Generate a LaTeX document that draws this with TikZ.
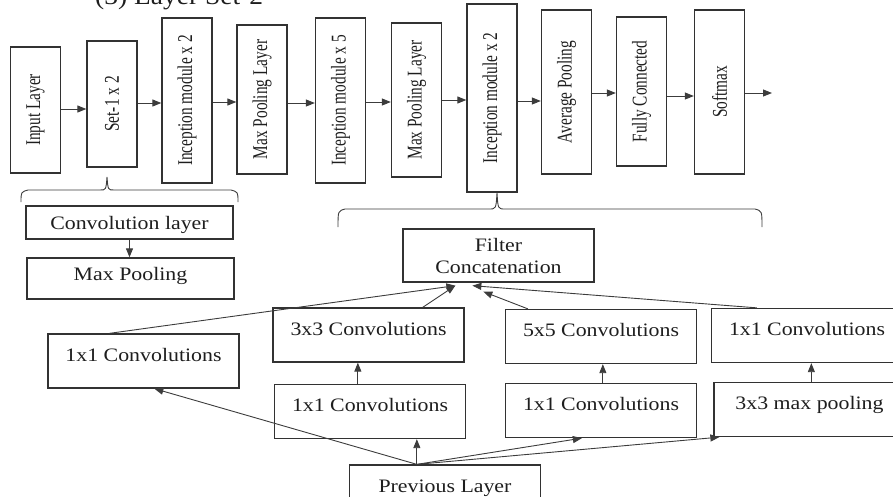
\documentclass[tikz,border=0pt]{standalone}
\usepackage{fontspec}
\setmainfont{Liberation Serif}
\newfontfamily\rotfont[FakeStretch=0.73]{Liberation Serif}
\newfontfamily\lowfont[FakeStretch=1.15]{Liberation Serif}
\newfontfamily\ttlfont[FakeStretch=1.1]{Liberation Serif}
\usetikzlibrary{arrows.meta}
\begin{document}
\begin{tikzpicture}[x=1pt,y=-1pt,
	layer/.style={draw=boxc, line width=1.3pt, rotate=90, inner sep=0pt, minimum height=50pt, text=txtc, font=\fontsize{21}{24}\rotfont},
	blk/.style={draw=boxc, line width=1.3pt, inner sep=0pt, minimum width=191pt, text=txtc, font=\fontsize{19}{22}\lowfont},
	cbox/.style={blk, text height=27pt, text depth=27pt},
	arr/.style={draw=linec, line width=0.9pt, -{Triangle[length=9pt,width=7pt]}},
	brc/.style={draw=linec, line width=0.9pt}]
	% Farben
	\definecolor{boxc}{RGB}{50,50,50}
	\definecolor{linec}{RGB}{60,60,60}
	\definecolor{txtc}{RGB}{30,30,30}
	
	\useasboundingbox (0,0) rectangle (893,496);
	
	% Titel (oben abgeschnitten)
	\node[anchor=base west, inner sep=0pt, text=txtc, font=\fontsize{25}{28}\ttlfont] (ttl) at (95,4) {(3) Layer Set-2};
	
	% obere Reihe: Schichten
	\node[layer, minimum width=126pt] (inp) at (35.5,110) {Input Layer};
	\node[layer, minimum width=126pt] (s1) at (112,104) {Set-1 x 2};
	\node[layer, minimum width=165pt] (i1) at (187,100.5) {Inception module x 2};
	\node[layer, minimum width=149pt] (m1) at (262,99.5) {Max Pooling Layer};
	\node[layer, minimum width=165pt] (i2) at (340.5,100.5) {Inception module x 5};
	\node[layer, minimum width=154pt] (m2) at (416.5,100) {Max Pooling Layer};
	\node[layer, minimum width=188pt] (i3) at (492,98) {Inception module x 2};
	\node[layer, minimum width=164pt] (ap) at (566.5,92) {Average Pooling};
	\node[layer, minimum width=149pt] (fc) at (641.5,91.5) {Fully Connected};
	\node[layer, minimum width=164pt] (sm) at (719.5,92) {Softmax};
	\coordinate (out) at (772,93);
	
	% Pfeile oben
	\foreach \a/\b/\h in {inp/s1/109, s1/i1/103, i1/m1/102, m1/i2/103, i2/m2/102, m2/i3/100, i3/ap/101, ap/fc/93, fc/sm/96}
		\draw[arr] (\a.south |- 0,\h) -- (\b.north |- 0,\h);
	\draw[arr] (sm.south |- out) -- (out);
	
	% Klammern
	\draw[brc] (21,202) .. controls (21,192) .. (28,190) -- (100,190) .. controls (106,190) .. (107,177) .. controls (108,190) .. (114,190) -- (231,190) .. controls (238,192) .. (238,202);
	\draw[brc] (338,227) .. controls (338,211) .. (345,209) -- (489,209) .. controls (496,209) .. (497,193) .. controls (498,209) .. (505,209) -- (755,209) .. controls (762,211) .. (762,227);
	
	% Set-1
	\node[blk, minimum width=207pt, text height=23pt, text depth=10pt] (conv) at (129.5,222.5) {Convolution layer};
	\node[blk, minimum width=207pt, text height=22pt, text depth=19pt] (mpool) at (130.5,278.5) {Max Pooling};
	\draw[arr] (conv.south) -- (conv.south |- mpool.north);
	
	% Inception-Modul
	\node[blk, align=center, minimum height=53pt] (cat) at (498.5,255.5) {Filter\\Concatenation};
	\node[cbox] (c1) at (143.5,361) {1x1 Convolutions};
	\node[cbox] (c3) at (368.5,335) {3x3 Convolutions};
	\node[cbox] (c5) at (601,336.5) {5x5 Convolutions};
	\node[cbox] (p1) at (807,335.5) {1x1 Convolutions};
	\node[cbox] (c2) at (370,411.5) {1x1 Convolutions};
	\node[cbox] (c4) at (601,410.5) {1x1 Convolutions};
	\node[cbox] (pool) at (809.5,409.5) {3x3 max pooling};
	\node[cbox] (prev) at (445,492) {Previous Layer};
	
	\coordinate (pv) at ([xshift=68pt]prev.north west);
	\coordinate (v1) at ([xshift=84pt]c2.north west);
	\coordinate (v2) at ([xshift=98pt]c4.north west);
	\coordinate (v3) at ([xshift=98pt]pool.north west);
	\coordinate (ta) at ([xshift=53pt,yshift=-3pt]cat.south west);
	\coordinate (tb) at ([xshift=70pt,yshift=-3pt]cat.south west);
	\coordinate (tc) at ([xshift=81pt,yshift=-9pt]cat.south west);
	
	% Pfeile unten
	\draw[arr] (pv) -- (pv |- c2.south);
	\draw[arr] (v1) -- (v1 |- c3.south);
	\draw[arr] (v2) -- (v2 |- c5.south);
	\draw[arr] (v3) -- (v3 |- p1.south);
	\draw[arr] (pv) -- ([xshift=107pt]c1.south west);
	\draw[arr] (pv) -- ([xshift=77pt]c4.south west);
	\draw[arr] (pv) -- ([xshift=6pt]pool.south west);
	
	% in die Filter Concatenation
	\draw[arr] ([xshift=62pt]c1.north west) -- (ta);
	\draw[arr] ([xshift=-42pt]c3.north east) -- (ta);
	\draw[arr] ([xshift=23pt]c5.north west) -- (tc);
	\draw[arr] ([xshift=46pt]p1.north west) -- (tb);
\end{tikzpicture}
\end{document}
